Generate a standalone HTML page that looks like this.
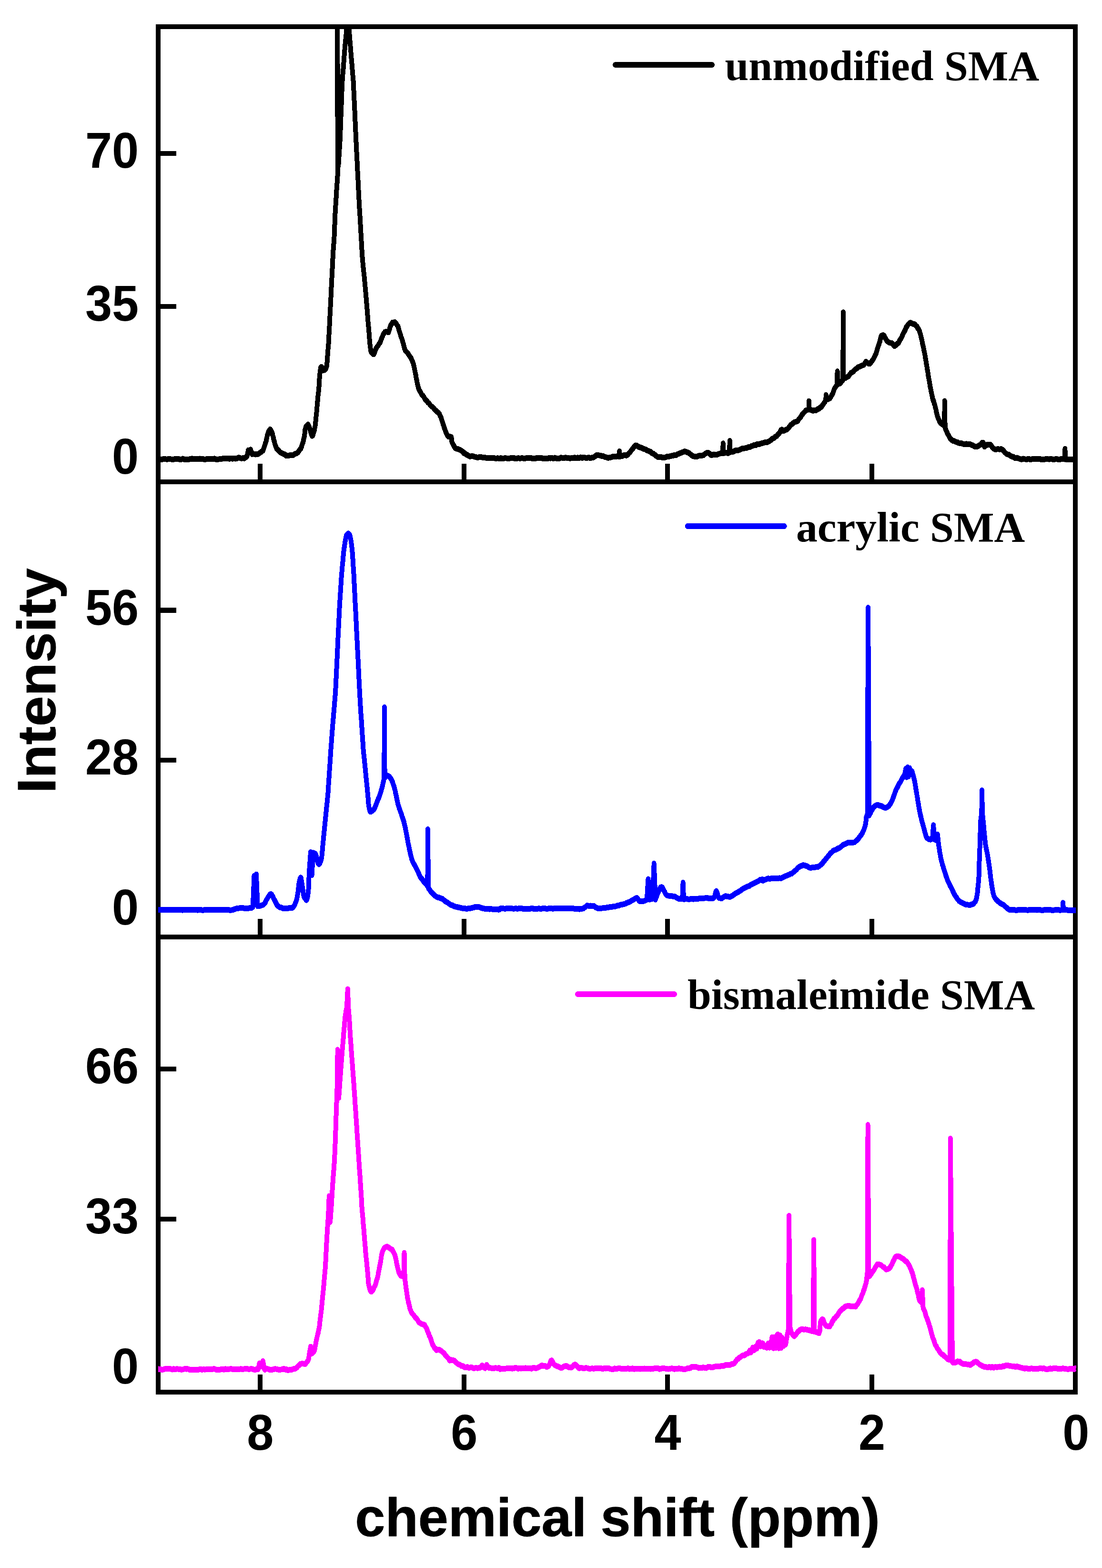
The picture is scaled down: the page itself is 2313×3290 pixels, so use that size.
<!DOCTYPE html>
<html lang="en"><head><meta charset="utf-8"><title>Intensity vs chemical shift (ppm)</title>
<style>
html,body{margin:0;padding:0;background:#fff;}
svg{display:block;width:2313px;height:3290px;}
.sans{font-family:"Liberation Sans",sans-serif;font-weight:700;fill:#000;}
.ttl{stroke:#000;stroke-width:0.9;stroke-linejoin:round;}
.serif{font-family:"Liberation Serif",serif;font-weight:700;fill:#000;}
.ax{stroke:#000;stroke-width:10;fill:none;shape-rendering:crispEdges;}
.cv{fill:none;stroke-width:10;stroke-linejoin:round;stroke-linecap:butt;shape-rendering:crispEdges;}
.lg{fill:none;stroke-width:12;stroke-linecap:round;shape-rendering:crispEdges;}
</style></head><body>
<svg width="2313" height="3290" viewBox="0 0 2313 3290">
<rect x="0" y="0" width="2313" height="3290" fill="#fff"/>
<defs>
<clipPath id="c1"><rect x="332" y="56" width="1927" height="955"/></clipPath>
<clipPath id="c2"><rect x="332" y="1011" width="1927" height="955"/></clipPath>
<clipPath id="c3"><rect x="332" y="1966" width="1927" height="955"/></clipPath>
</defs>
<g fill="#000" shape-rendering="crispEdges">
<rect x="327" y="51" width="10" height="2875"/>
<rect x="2252" y="51" width="10" height="2875"/>
<rect x="327" y="51" width="1935" height="10"/>
<rect x="327" y="1006" width="1935" height="10"/>
<rect x="327" y="1961" width="1935" height="10"/>
<rect x="327" y="2916" width="1935" height="10"/>
<rect x="541" y="973" width="10" height="33"/>
<rect x="541" y="1928" width="10" height="33"/>
<rect x="541" y="2884" width="10" height="32"/>
<rect x="969" y="973" width="10" height="33"/>
<rect x="969" y="1928" width="10" height="33"/>
<rect x="969" y="2884" width="10" height="32"/>
<rect x="1396" y="973" width="10" height="33"/>
<rect x="1396" y="1928" width="10" height="33"/>
<rect x="1396" y="2884" width="10" height="32"/>
<rect x="1825" y="973" width="10" height="33"/>
<rect x="1825" y="1928" width="10" height="33"/>
<rect x="1825" y="2884" width="10" height="32"/>
<rect x="337" y="317" width="33" height="10"/>
<rect x="337" y="638" width="33" height="10"/>
<rect x="337" y="959" width="33" height="10"/>
<rect x="337" y="1275" width="33" height="11"/>
<rect x="337" y="1590" width="33" height="10"/>
<rect x="337" y="1905" width="33" height="10"/>
<rect x="337" y="2238" width="33" height="10"/>
<rect x="337" y="2553" width="33" height="10"/>
<rect x="337" y="2868" width="33" height="10"/>
</g>
<g class="sans" font-size="105.3" text-anchor="end">
<text transform="translate(291.2,352.3) scale(0.958,1)">70</text>
<text transform="translate(291.2,673.3) scale(0.958,1)">35</text>
<text transform="translate(291.2,994.3) scale(0.958,1)">0</text>
<text transform="translate(291.2,1310.8) scale(0.958,1)">56</text>
<text transform="translate(291.2,1625.3) scale(0.958,1)">28</text>
<text transform="translate(291.2,1939.8) scale(0.958,1)">0</text>
<text transform="translate(291.2,2273.3) scale(0.958,1)">66</text>
<text transform="translate(291.2,2588.3) scale(0.958,1)">33</text>
<text transform="translate(291.2,2903.3) scale(0.958,1)">0</text>
</g>
<g class="sans" font-size="105.3" text-anchor="middle">
<text transform="translate(546.3,3041.6) scale(0.958,1)">8</text>
<text transform="translate(974.3,3041.6) scale(0.958,1)">6</text>
<text transform="translate(1401.6,3041.6) scale(0.958,1)">4</text>
<text transform="translate(1830.0,3041.6) scale(0.958,1)">2</text>
<text transform="translate(2258.2,3041.6) scale(0.958,1)">0</text>
</g>
<text class="sans ttl" font-size="113.5" text-anchor="middle" dx="0 0 0 0 0 0 0 0 -2.2" transform="translate(1296.1,3223) scale(1.0,1)">chemical shift (ppm)</text>
<text class="sans ttl" font-size="114" text-anchor="middle" transform="translate(116.3,1428.5) rotate(-90) scale(1.0075,1)">Intensity</text>
<g clip-path="url(#c1)"><g transform="scale(1,1.2)"><polyline class="cv" stroke="#000" points="331.9,802.83 332.7,802.75 335.0,802.93 338.4,803.54 342.5,802.78 346.8,802.85 351.0,802.98 354.6,802.31 357.9,802.85 361.1,803.05 364.4,803.32 367.6,802.16 370.9,802.51 374.1,802.15 377.4,803.35 380.7,803.16 383.9,802.07 387.2,803.64 390.4,803.61 393.7,803.09 396.9,803.03 400.2,802.26 403.4,802.03 406.7,802.89 410.0,802.12 413.3,802.34 416.5,802.43 419.7,802.07 422.9,802.77 426.4,802.70 429.9,803.31 433.3,802.71 436.7,802.85 440.2,802.55 443.6,802.76 447.0,802.36 450.5,802.00 453.9,803.15 457.4,803.09 460.8,802.77 464.2,802.49 467.7,801.79 471.2,801.60 474.8,801.66 478.2,801.24 481.6,802.34 484.9,801.63 488.1,802.25 491.1,801.33 494.1,802.12 497.1,801.77 500.1,800.19 503.3,800.46 506.7,801.61 510.0,800.82 513.0,801.48 515.2,800.08 518.4,798.18 521.1,787.18 523.6,790.70 526.1,786.14 529.2,794.05 531.4,793.52 536.1,794.62 540.7,794.51 544.0,792.67 547.1,790.86 550.0,789.13 551.6,788.22 553.1,785.47 554.4,781.71 555.6,779.08 556.6,775.98 557.7,773.18 558.6,771.78 559.4,768.01 560.1,765.90 560.7,763.05 561.5,760.13 562.3,758.81 563.8,754.63 565.4,752.66 567.0,750.56 568.6,752.29 570.2,754.76 571.6,758.04 572.5,761.47 573.3,763.75 574.0,765.66 574.7,769.41 575.5,770.97 576.3,773.74 577.3,777.31 578.3,779.62 579.4,781.23 580.9,785.06 582.9,785.96 585.2,788.07 587.7,790.79 590.2,791.70 593.7,793.34 597.3,794.37 599.5,795.43 600.0,796.81 601.6,796.38 604.5,796.82 608.1,796.04 612.0,795.59 615.6,795.69 618.6,794.06 622.2,792.69 625.2,791.30 627.9,787.89 629.8,785.62 631.4,784.37 632.8,781.49 634.1,777.67 635.0,775.20 635.9,773.60 636.7,771.31 637.4,767.40 638.1,765.98 638.7,763.24 639.3,760.08 639.7,756.95 640.0,753.58 640.4,750.78 641.0,749.89 641.8,746.67 644.1,744.24 646.5,742.05 647.8,744.17 648.9,746.39 650.0,749.05 651.1,751.73 652.2,755.55 653.1,757.68 654.1,760.55 655.1,762.18 656.2,761.84 657.3,759.28 658.4,755.73 659.5,753.49 660.4,749.20 661.0,746.55 661.5,744.45 661.9,742.10 662.3,738.75 662.6,736.21 662.9,733.85 663.2,731.60 663.5,728.43 663.9,725.80 664.2,723.82 664.5,721.20 664.8,717.90 665.1,715.16 665.4,712.13 665.7,708.53 666.0,705.50 666.3,702.63 666.6,701.33 666.9,698.36 667.2,696.20 667.5,692.07 667.8,690.53 668.2,687.70 668.5,685.58 668.8,682.41 669.1,681.04 669.4,676.89 669.7,674.90 669.9,672.84 670.1,670.56 670.2,667.63 670.3,664.86 670.5,662.29 670.7,659.82 670.9,656.32 671.2,654.48 671.7,651.56 672.2,647.99 672.8,644.01 673.5,642.25 674.4,641.36 675.8,642.55 677.5,645.98 679.3,647.52 681.9,646.76 684.3,644.02 685.1,641.36 685.7,640.02 686.1,637.98 686.4,634.94 686.7,631.73 686.9,628.24 687.1,626.05 687.4,623.33 687.7,620.32 687.9,618.38 688.2,614.61 688.4,613.23 688.6,609.50 688.9,607.90 689.1,605.18 689.4,602.22 689.6,600.41 689.8,597.37 690.0,594.84 690.2,592.52 690.4,588.52 690.5,585.18 690.7,582.73 690.9,580.46 691.0,576.80 691.2,573.88 691.4,572.23 691.6,568.96 691.7,565.72 691.9,563.61 692.1,559.80 692.3,557.49 692.4,553.84 692.6,551.36 692.8,549.12 692.9,546.43 693.1,543.51 693.3,539.81 693.5,537.28 693.6,533.96 693.8,530.80 694.0,528.53 694.1,526.23 694.3,523.38 694.5,520.28 694.7,517.81 694.8,513.82 695.0,510.77 695.2,508.37 695.3,505.21 695.5,502.24 695.7,499.71 695.9,497.19 696.0,494.11 696.2,490.94 696.4,488.94 696.5,486.31 696.7,482.56 696.9,479.07 697.1,476.12 697.2,474.66 697.4,470.40 697.6,468.65 697.8,465.55 697.9,462.24 698.1,460.18 698.3,456.00 698.4,453.26 698.6,450.86 698.8,447.24 698.9,445.76 699.1,442.05 699.3,439.18 699.6,436.43 699.8,434.86 700.0,432.04 700.2,429.79 700.4,427.31 700.7,425.09 700.9,422.85 701.1,419.78 701.3,416.17 701.5,414.13 701.6,410.99 701.8,407.94 701.9,405.86 702.0,403.37 702.2,399.56 702.3,396.83 702.4,394.13 702.6,391.93 702.7,388.83 702.9,386.19 703.0,383.62 703.1,380.22 703.3,378.10 703.4,375.53 703.6,371.42 703.8,370.21 703.9,367.26 704.1,363.69 704.3,361.65 704.5,359.37 704.7,357.28 704.9,353.83 705.1,351.57 705.3,349.48 705.5,346.70 705.6,344.29 705.8,340.84 706.0,338.53 706.2,335.21 706.4,333.58 706.6,331.33 706.8,327.98 707.1,325.20 707.3,321.53 707.6,319.86 707.8,317.15 708.1,313.79 708.4,309.24 708.7,306.08 709.0,302.63 709.0,301.89 707.6,21.02 710.3,289.50 710.3,289.58 710.5,287.83 710.7,284.53 710.9,281.06 711.2,278.31 711.4,275.06 711.7,272.16 711.9,268.82 712.1,265.48 712.3,264.20 712.5,260.37 712.7,259.02 713.0,255.39 713.2,253.08 713.3,251.25 713.5,247.59 713.7,245.03 713.8,243.06 713.9,240.82 714.0,238.43 714.1,235.60 714.2,233.45 714.3,230.11 714.5,228.29 714.6,224.27 714.7,221.91 714.8,219.84 714.9,216.86 715.0,215.01 715.2,212.28 715.3,209.51 715.4,207.46 715.5,204.41 715.6,201.41 715.7,198.95 715.9,197.14 716.0,194.65 716.1,190.91 716.2,189.40 716.3,187.02 716.5,183.70 716.6,181.20 716.7,177.99 716.8,175.97 716.9,173.33 717.0,170.92 717.2,167.38 717.3,166.37 717.4,163.03 717.5,160.26 717.6,158.34 717.7,155.36 717.8,152.66 717.9,150.41 718.1,146.79 718.2,145.00 718.4,142.21 718.6,140.53 718.9,137.89 719.1,134.22 719.4,131.98 719.6,128.82 719.9,126.75 720.1,124.81 720.4,122.37 720.6,119.08 720.8,116.23 721.1,113.44 721.3,111.57 721.5,109.50 721.8,105.59 722.0,104.09 722.3,100.23 722.5,97.89 722.7,95.31 723.0,93.45 723.2,90.23 723.4,87.71 723.7,85.63 723.9,82.32 724.2,80.57 724.5,76.86 724.8,74.86 725.2,71.81 725.5,69.11 725.8,67.02 726.1,64.22 726.4,61.51 726.7,58.97 727.0,56.52 727.3,53.20 727.6,50.47 727.9,48.33 728.2,44.98 728.5,41.21 728.8,38.20 729.2,34.56 729.5,32.32 729.8,29.49 730.1,29.68 730.4,30.42 730.7,32.30 731.1,33.88 731.4,37.04 731.7,41.56 732.0,43.99 732.3,48.74 732.6,51.60 732.9,52.92 733.1,55.68 733.4,59.10 733.6,60.93 733.9,63.29 734.1,67.14 734.4,69.08 734.6,72.32 734.9,73.83 735.1,76.90 735.4,79.98 735.6,81.48 735.9,84.40 736.2,87.81 736.4,90.80 736.7,93.51 736.9,94.69 737.2,97.96 737.4,100.99 737.7,103.17 737.9,106.09 738.2,107.87 738.4,110.28 738.7,112.95 739.0,115.45 739.2,118.92 739.5,121.46 739.7,124.17 740.0,126.10 740.3,128.80 740.5,131.47 740.8,135.16 741.1,138.03 741.3,140.52 741.6,141.71 741.8,144.20 741.9,148.33 742.1,150.12 742.3,153.21 742.4,155.05 742.5,157.84 742.6,160.48 742.8,162.90 742.9,165.75 743.0,167.36 743.2,171.08 743.3,173.90 743.5,175.38 743.6,178.42 743.8,181.47 743.9,183.50 744.0,185.73 744.2,188.26 744.3,191.42 744.5,193.17 744.6,197.22 744.8,199.65 744.9,202.07 745.0,204.91 745.2,207.10 745.3,209.31 745.5,212.22 745.6,214.64 745.8,218.02 745.9,220.30 746.0,221.97 746.2,225.64 746.3,227.95 746.5,230.58 746.6,233.23 746.7,235.13 746.9,238.53 747.0,241.08 747.2,243.35 747.3,246.06 747.5,248.63 747.6,250.62 747.8,253.73 747.9,255.22 748.1,258.25 748.2,261.05 748.4,262.87 748.5,266.02 748.7,269.08 748.9,271.63 749.0,273.56 749.2,277.33 749.3,279.45 749.5,281.48 749.6,284.60 749.8,287.03 749.9,289.55 750.1,291.90 750.2,295.49 750.4,297.48 750.6,300.16 750.7,302.84 750.9,305.79 751.0,306.77 751.2,310.34 751.3,313.13 751.5,314.91 751.6,317.73 751.8,319.73 752.0,322.55 752.1,325.43 752.3,327.55 752.4,330.39 752.6,334.06 752.7,336.03 752.9,338.52 753.0,341.85 753.2,343.76 753.3,347.06 753.5,349.06 753.7,351.97 753.8,353.22 754.0,356.57 754.2,359.34 754.3,360.66 754.5,364.66 754.7,365.90 754.9,368.94 755.0,370.96 755.2,374.01 755.4,376.71 755.6,378.30 755.7,382.28 755.9,383.92 756.1,386.60 756.2,389.23 756.4,391.35 756.6,393.72 756.8,396.84 756.9,399.19 757.1,401.24 757.3,404.47 757.4,406.27 757.6,408.31 757.8,411.20 758.0,413.37 758.1,416.07 758.3,419.57 758.5,421.50 758.6,424.93 758.8,427.29 759.0,428.73 759.2,432.88 759.3,435.34 759.5,436.36 759.7,440.12 759.9,441.59 760.1,444.59 760.3,448.10 760.5,449.49 760.8,452.60 761.1,456.12 761.4,458.35 761.7,460.63 762.0,464.25 762.4,466.81 762.7,469.30 763.1,471.32 763.4,474.96 763.7,477.45 764.1,479.79 764.4,482.31 764.8,485.86 765.1,487.96 765.4,491.25 765.7,494.40 766.0,496.81 766.3,499.25 766.6,502.55 766.9,505.05 767.2,508.41 767.5,510.76 767.8,514.31 768.0,517.00 768.3,519.40 768.6,521.34 768.9,523.90 769.2,527.96 769.5,530.55 769.8,533.05 770.0,535.37 770.3,537.99 770.6,541.45 770.8,544.01 771.1,546.82 771.4,549.66 771.6,552.62 771.9,554.47 772.2,557.38 772.4,561.41 772.7,564.11 773.0,566.82 773.2,568.14 773.5,570.83 773.7,573.86 774.0,576.73 774.3,579.62 774.5,581.29 774.8,584.56 775.0,586.34 775.3,588.95 775.5,592.54 775.7,594.93 775.9,597.65 776.2,599.79 776.6,602.51 777.0,605.12 777.5,608.54 778.0,612.30 778.7,615.19 779.7,616.03 783.4,619.20 784.8,619.22 786.1,616.43 787.4,613.61 789.0,609.81 790.4,608.11 792.0,605.72 793.6,604.48 795.3,601.56 796.9,599.83 798.3,598.19 799.7,594.41 800.9,591.94 802.1,589.48 803.3,587.24 804.5,584.35 808.2,580.38 811.7,580.07 815.3,581.23 816.8,577.84 817.8,574.64 818.7,571.97 820.0,568.96 821.8,566.77 823.9,563.95 826.1,563.76 828.7,563.42 831.5,565.82 833.9,569.25 835.2,570.35 836.3,573.16 837.3,576.55 838.2,579.30 839.1,581.42 840.1,583.87 841.1,586.83 842.2,590.06 843.3,592.07 844.3,594.26 845.3,597.80 846.3,600.07 847.2,603.38 848.0,606.14 848.8,608.75 849.7,610.47 850.9,613.37 852.6,614.63 854.7,616.46 856.7,618.39 858.7,621.33 860.4,623.57 862.0,624.98 863.6,627.80 865.1,630.53 866.4,633.29 867.4,635.78 868.3,638.26 869.0,640.49 869.7,643.70 870.4,646.76 871.1,649.08 871.7,652.04 872.3,654.18 872.8,656.21 873.4,659.89 873.9,662.78 874.5,664.41 875.1,666.50 875.7,669.68 876.5,672.55 877.3,675.27 878.2,678.49 879.2,680.42 880.4,683.07 882.0,684.54 883.9,687.88 885.9,690.79 888.1,692.20 889.9,694.31 891.9,697.59 894.0,700.08 896.2,700.92 898.3,703.98 900.5,705.21 903.0,708.41 905.5,710.38 908.0,711.77 910.5,713.72 912.9,716.58 915.4,718.10 917.8,720.30 920.1,721.54 922.2,723.60 923.7,726.93 925.0,728.94 926.2,731.30 927.2,734.11 928.4,737.15 929.4,739.66 930.4,742.65 931.4,744.50 932.4,747.86 933.5,750.15 934.6,752.86 936.0,755.77 937.4,758.78 939.0,761.43 940.8,763.36 944.0,763.47 947.0,763.93 947.9,766.64 947.9,770.12 948.5,772.79 949.9,775.50 951.7,777.82 953.8,781.43 956.3,784.07 959.0,784.62 962.2,785.45 965.5,786.60 968.6,788.29 971.1,789.54 973.4,792.34 975.7,792.54 978.2,794.54 981.0,795.52 983.8,797.24 986.8,798.12 990.0,797.64 993.3,797.86 996.6,798.86 999.7,799.36 1002.7,800.20 1006.0,799.04 1009.1,799.35 1012.1,799.62 1015.2,799.80 1018.2,799.98 1021.3,800.98 1024.4,800.98 1027.5,800.57 1030.6,800.68 1033.7,800.96 1037.1,800.84 1040.8,801.84 1044.4,801.08 1047.3,801.45 1049.2,801.85 1050.0,801.23 1051.4,800.84 1053.5,801.87 1056.4,801.91 1059.7,800.96 1063.3,801.31 1067.1,802.01 1070.9,801.23 1074.6,800.80 1077.9,800.52 1081.0,802.01 1084.1,801.77 1087.2,801.07 1090.3,801.31 1093.4,801.29 1096.5,800.89 1099.6,802.08 1102.7,801.53 1105.8,800.83 1108.9,800.45 1112.0,801.22 1115.1,801.05 1118.2,801.76 1121.2,801.62 1124.3,801.44 1127.4,800.70 1130.5,800.69 1133.6,800.97 1136.7,800.87 1139.8,801.89 1142.9,801.31 1146.0,801.52 1149.1,802.12 1152.2,800.91 1155.3,801.36 1158.4,800.71 1161.5,801.72 1164.7,800.40 1167.8,801.72 1171.0,801.71 1174.2,801.61 1177.3,800.31 1180.5,800.56 1183.7,801.24 1186.9,800.14 1190.0,800.72 1193.2,800.64 1196.4,801.40 1199.5,800.73 1202.7,801.12 1205.9,800.14 1209.0,800.89 1212.2,800.21 1215.4,800.99 1218.5,799.56 1221.8,800.78 1225.3,799.83 1228.9,800.50 1232.5,800.59 1236.0,800.06 1239.3,801.18 1242.3,800.19 1244.9,799.90 1247.0,799.02 1250.0,797.24 1252.6,795.64 1256.0,796.09 1259.9,796.38 1263.8,797.86 1266.8,797.68 1269.7,798.99 1273.0,799.66 1275.9,800.57 1279.3,800.20 1282.9,799.61 1286.6,798.18 1290.1,798.42 1293.1,798.68 1295.3,797.74 1299.1,798.17 1300.2,789.23 1301.3,798.17 1304.7,797.66 1307.4,797.01 1310.9,795.68 1314.5,796.49 1317.7,794.96 1320.3,792.17 1322.6,790.60 1324.8,787.66 1327.0,785.58 1329.4,783.11 1331.8,780.07 1334.4,778.70 1337.3,779.31 1340.4,781.41 1343.7,782.28 1347.3,783.23 1351.1,785.07 1354.8,785.50 1357.6,787.53 1360.4,787.99 1363.2,789.46 1366.0,790.14 1368.5,792.45 1371.1,792.96 1373.7,794.81 1376.3,796.31 1379.0,798.47 1382.2,799.34 1385.4,798.92 1388.7,799.50 1392.0,800.29 1395.7,799.77 1399.4,798.60 1403.2,798.33 1406.9,797.60 1409.9,796.96 1412.9,796.74 1415.8,795.42 1418.8,796.01 1421.8,794.34 1424.8,793.40 1427.8,792.31 1430.8,791.25 1433.8,790.39 1436.6,789.31 1439.6,789.67 1442.4,790.86 1445.1,791.51 1447.8,793.36 1450.8,795.33 1453.7,797.31 1457.1,798.03 1460.1,798.14 1463.5,798.08 1467.0,796.87 1470.5,796.95 1473.8,796.36 1477.4,795.57 1480.8,792.83 1484.0,791.70 1486.8,791.37 1489.5,793.55 1492.4,795.62 1494.9,795.48 1498.3,794.53 1502.0,795.07 1505.9,794.68 1509.5,793.45 1512.6,792.61 1514.7,792.60 1516.9,792.60 1517.7,775.29 1518.4,792.60 1520.8,791.71 1525.8,792.09 1529.5,792.17 1531.0,791.36 1531.8,770.64 1532.5,790.43 1533.5,790.25 1536.1,790.05 1539.8,789.50 1544.0,787.56 1548.2,787.93 1551.9,786.61 1555.0,785.20 1558.1,784.31 1561.2,783.87 1564.3,783.70 1567.4,783.16 1570.5,781.78 1573.6,781.96 1576.8,780.14 1580.0,779.42 1583.2,777.99 1586.2,778.60 1589.0,776.50 1592.9,776.95 1596.4,775.65 1600.0,774.93 1603.1,774.26 1606.2,773.09 1609.3,773.39 1612.4,772.55 1615.6,770.95 1618.8,769.07 1621.8,766.62 1624.8,766.07 1627.5,763.48 1630.1,762.71 1632.5,759.77 1634.7,758.42 1637.0,755.99 1639.0,751.97 1640.9,751.15 1644.6,753.47 1646.7,752.81 1649.3,751.47 1652.0,750.75 1654.5,748.71 1657.0,746.21 1659.4,743.39 1661.9,741.84 1664.4,740.11 1667.8,738.01 1671.3,737.19 1674.3,736.09 1676.7,732.89 1678.7,731.06 1680.5,729.34 1683.0,725.65 1685.5,723.00 1688.5,720.48 1691.7,717.49 1695.2,716.64 1697.4,715.97 1697.9,701.34 1698.4,715.97 1701.4,716.58 1706.6,718.15 1709.9,717.52 1713.3,717.30 1716.5,715.20 1719.2,714.83 1721.6,712.19 1723.9,711.57 1726.0,709.03 1728.0,706.63 1729.9,704.35 1731.3,702.75 1733.3,698.41 1733.8,690.61 1735.1,698.41 1737.5,698.17 1741.3,696.77 1743.6,694.49 1745.7,691.08 1747.5,688.91 1748.8,685.86 1749.9,683.07 1751.2,679.67 1753.9,676.34 1756.1,673.73 1756.9,671.56 1757.6,649.30 1759.1,671.56 1763.6,670.18 1767.1,666.49 1769.3,664.33 1769.8,546.03 1770.5,662.27 1773.5,661.33 1778.4,659.05 1780.9,658.10 1783.4,654.99 1785.9,652.29 1788.3,651.28 1790.8,649.63 1793.3,647.40 1795.8,645.37 1798.3,644.10 1802.0,641.60 1805.7,640.74 1809.6,639.01 1813.1,637.89 1815.5,634.90 1817.6,632.33 1820.2,634.13 1823.0,635.70 1825.5,635.94 1828.1,633.65 1830.5,630.86 1832.2,628.94 1833.8,626.80 1835.3,624.09 1836.7,621.27 1837.8,620.34 1838.8,617.97 1839.8,614.94 1840.7,612.72 1841.6,609.47 1842.6,607.61 1843.7,604.13 1844.7,602.50 1845.7,599.73 1846.6,597.88 1847.5,593.67 1848.3,591.89 1849.2,588.15 1850.3,586.95 1853.3,585.98 1855.5,586.63 1857.7,590.59 1859.6,593.28 1861.6,596.00 1863.9,597.51 1867.6,599.46 1871.4,599.80 1873.6,601.05 1875.5,603.48 1877.6,605.20 1880.7,603.14 1883.8,600.56 1886.0,599.62 1888.0,595.81 1890.0,593.08 1891.5,591.49 1893.0,589.07 1894.5,585.65 1896.0,582.65 1897.4,580.35 1898.9,578.66 1900.4,575.89 1901.9,572.15 1903.6,570.93 1905.9,567.66 1908.4,565.71 1911.0,564.04 1913.9,565.38 1916.9,566.63 1919.7,566.77 1922.5,569.48 1924.9,571.24 1927.1,575.13 1928.6,576.06 1929.9,578.62 1931.0,582.31 1932.1,584.50 1932.9,587.83 1933.6,590.30 1934.3,592.68 1935.0,594.46 1935.7,598.18 1936.4,601.38 1937.0,603.32 1937.7,605.27 1938.4,608.15 1939.0,610.98 1939.7,614.34 1940.3,616.14 1940.9,618.70 1941.5,621.28 1942.0,624.33 1942.6,627.22 1943.1,629.03 1943.6,631.91 1944.0,634.66 1944.5,636.60 1945.0,638.48 1945.5,641.07 1946.0,644.60 1946.5,646.64 1947.0,648.47 1947.5,651.55 1948.0,653.11 1948.4,657.08 1948.9,658.66 1949.4,661.28 1949.9,663.71 1950.4,665.28 1950.8,668.61 1951.3,670.59 1951.9,673.21 1952.4,676.49 1953.0,677.82 1953.6,680.80 1954.2,684.29 1954.8,686.16 1955.5,688.89 1956.2,691.93 1956.9,693.76 1957.7,697.51 1958.6,700.07 1959.5,700.82 1960.4,703.87 1961.4,706.76 1962.3,708.70 1963.0,712.04 1963.8,713.93 1964.5,716.10 1965.2,719.46 1965.9,722.31 1966.7,724.44 1967.5,727.38 1968.4,729.80 1969.8,732.36 1971.2,735.11 1972.8,738.13 1974.5,739.87 1977.8,742.00 1980.7,743.72 1982.3,741.27 1982.7,701.11 1983.7,748.08 1984.2,748.67 1985.5,752.41 1987.2,754.74 1988.8,758.48 1990.6,760.57 1992.5,763.66 1994.6,766.79 1997.0,769.00 1999.8,770.67 2002.9,771.09 2006.1,772.62 2009.3,773.17 2012.3,774.63 2015.5,775.22 2018.5,775.02 2021.6,776.35 2025.0,776.59 2028.4,776.15 2031.8,776.81 2035.3,776.59 2038.7,777.87 2042.0,778.80 2046.2,780.87 2050.2,781.20 2053.0,780.26 2055.8,778.32 2058.4,777.54 2061.2,773.89 2063.5,773.98 2064.6,775.29 2065.3,778.48 2066.5,780.94 2069.4,779.08 2072.7,777.31 2075.7,777.16 2078.8,777.14 2080.8,779.05 2082.6,781.83 2084.6,784.00 2087.0,785.17 2090.3,786.15 2094.0,784.96 2097.8,785.79 2101.3,785.02 2104.1,786.42 2106.5,788.06 2108.9,790.92 2111.5,792.93 2114.4,794.49 2117.4,794.87 2120.6,796.91 2123.8,798.12 2127.2,798.96 2130.8,801.14 2134.4,800.35 2138.1,801.73 2141.2,802.60 2144.4,803.26 2147.6,802.07 2150.9,802.74 2154.5,803.35 2157.4,802.25 2160.4,802.62 2163.5,803.71 2166.7,802.45 2170.0,802.84 2173.2,802.64 2176.5,802.83 2179.7,802.24 2182.8,802.17 2186.0,803.77 2189.1,803.38 2192.3,803.33 2195.4,802.49 2198.6,802.53 2201.7,803.03 2204.9,802.51 2208.2,802.88 2211.7,803.66 2215.2,802.71 2218.8,802.67 2222.1,803.74 2225.2,803.13 2227.9,802.17 2230.1,802.78 2234.8,802.94 2235.4,784.60 2236.2,802.94 2257.7,803.12"/></g></g>
<g clip-path="url(#c2)"><g transform="scale(1,1.2)"><polyline class="cv" stroke="#00f" points="331.9,1590.92 332.6,1590.90 334.7,1591.08 337.7,1591.09 341.4,1590.57 345.6,1590.44 349.8,1590.80 353.8,1590.70 357.4,1591.24 360.6,1591.12 363.7,1591.03 366.9,1590.98 370.1,1591.09 373.3,1590.57 376.5,1590.87 379.7,1590.59 382.9,1591.33 386.1,1590.48 389.2,1591.24 392.4,1590.50 395.6,1591.11 398.8,1590.76 402.0,1590.83 405.2,1591.27 408.4,1590.44 411.6,1590.49 414.8,1591.34 417.9,1590.93 421.1,1590.52 424.3,1591.41 427.5,1591.37 430.7,1590.54 433.9,1590.85 437.1,1590.56 440.3,1590.74 443.4,1591.05 446.6,1590.59 449.8,1591.12 453.0,1590.48 456.2,1590.60 459.4,1591.24 462.6,1590.85 465.9,1590.94 469.1,1591.20 472.4,1591.16 475.6,1591.12 478.8,1590.75 481.9,1591.35 484.9,1591.39 488.2,1590.97 491.5,1590.02 494.6,1589.00 497.7,1588.31 500.6,1588.08 503.5,1587.74 506.7,1587.20 509.8,1587.62 512.8,1588.08 515.9,1588.35 519.2,1588.52 522.7,1587.94 525.9,1587.08 528.3,1587.37 530.7,1585.76 533.5,1531.38 535.7,1561.23 537.9,1528.80 540.7,1584.47 542.1,1584.28 545.6,1583.95 549.7,1582.86 553.0,1581.82 555.4,1579.71 557.2,1577.39 558.9,1573.82 560.8,1571.61 562.7,1568.68 564.7,1566.46 566.6,1563.65 568.5,1563.08 570.1,1563.99 571.7,1566.29 573.2,1568.38 574.7,1571.62 576.3,1573.85 578.1,1576.68 579.8,1579.70 581.7,1582.80 584.0,1584.45 587.0,1586.42 590.4,1586.76 593.8,1588.30 596.4,1588.21 599.5,1588.03 600.0,1588.55 602.3,1588.70 606.2,1587.76 610.5,1587.69 613.9,1587.28 616.5,1584.86 618.5,1582.08 620.1,1578.78 621.2,1576.60 622.0,1574.76 622.8,1572.54 623.5,1569.84 624.2,1566.57 624.8,1563.30 625.3,1561.11 625.7,1558.92 626.0,1556.22 626.4,1553.25 626.7,1550.11 627.0,1547.78 627.4,1545.29 627.9,1543.25 628.9,1538.91 629.9,1536.04 631.0,1534.48 631.6,1534.61 632.3,1536.98 632.9,1540.73 633.5,1543.77 634.1,1548.09 634.7,1550.88 635.2,1553.72 635.7,1556.56 636.1,1558.95 636.6,1561.83 637.2,1564.44 637.9,1567.20 638.7,1569.14 641.0,1571.83 643.4,1573.97 644.3,1572.63 645.0,1570.46 645.7,1567.91 646.2,1565.29 646.7,1561.63 647.1,1558.73 647.4,1556.61 647.6,1554.15 647.8,1551.38 647.9,1548.42 648.0,1545.94 648.1,1543.60 648.2,1540.85 648.3,1538.04 648.5,1534.94 648.7,1531.70 648.9,1528.64 649.1,1525.12 649.3,1521.54 649.4,1519.78 649.5,1518.32 649.6,1517.31 652.0,1490.03 654.5,1530.22 654.6,1529.78 654.7,1527.90 654.9,1525.04 655.2,1521.22 655.4,1517.80 655.7,1513.84 655.9,1510.45 656.0,1507.68 656.0,1504.25 655.9,1501.39 655.9,1497.85 656.0,1494.85 656.5,1492.78 657.3,1491.12 662.0,1492.82 663.2,1494.97 664.2,1497.64 665.0,1500.89 665.7,1504.32 666.6,1506.81 668.1,1510.27 669.7,1511.27 670.9,1510.22 672.1,1508.02 673.3,1505.24 674.4,1502.08 674.9,1499.81 675.4,1497.65 675.8,1494.45 676.1,1491.36 676.4,1489.00 676.7,1486.15 676.9,1483.17 677.2,1481.09 677.5,1478.42 677.8,1475.50 678.1,1472.98 678.4,1471.10 678.7,1467.70 679.0,1465.54 679.3,1462.87 679.6,1460.21 679.9,1457.86 680.2,1455.07 680.5,1453.19 680.9,1450.19 681.2,1447.80 681.5,1444.68 681.8,1442.40 682.1,1439.96 682.4,1437.66 682.7,1434.57 683.0,1432.26 683.3,1430.05 683.6,1427.28 683.9,1424.12 684.3,1421.74 684.6,1419.19 684.9,1415.99 685.3,1413.41 685.6,1410.55 686.0,1408.06 686.3,1404.88 686.7,1402.24 687.0,1399.14 687.3,1396.76 687.7,1393.58 688.0,1390.99 688.3,1388.09 688.6,1385.27 688.8,1382.33 689.0,1379.66 689.2,1377.21 689.4,1374.15 689.6,1371.18 689.8,1369.17 690.1,1365.89 690.3,1363.77 690.5,1360.67 690.7,1357.69 690.9,1355.41 691.2,1352.67 691.4,1349.33 691.6,1346.37 691.8,1344.12 692.1,1341.55 692.3,1338.55 692.5,1335.96 692.7,1332.82 692.9,1330.26 693.2,1327.14 693.4,1324.52 693.6,1321.73 693.8,1318.97 694.0,1316.21 694.3,1313.86 694.5,1310.45 694.7,1307.72 695.0,1305.01 695.2,1302.96 695.5,1299.74 695.7,1296.51 695.9,1294.52 696.2,1291.79 696.4,1288.97 696.7,1285.73 696.9,1283.33 697.1,1280.12 697.4,1277.18 697.6,1275.16 697.9,1272.39 698.1,1269.14 698.4,1267.19 698.7,1263.73 698.9,1261.42 699.2,1258.54 699.5,1256.10 699.8,1253.50 700.0,1251.42 700.3,1248.33 700.6,1245.55 700.8,1242.88 701.1,1240.40 701.4,1238.41 701.6,1235.72 701.9,1232.49 702.1,1230.47 702.4,1227.79 702.6,1225.19 702.9,1222.73 703.1,1220.30 703.4,1217.93 703.6,1215.09 703.9,1212.63 704.1,1209.76 704.3,1207.20 704.5,1204.13 704.6,1201.26 704.8,1198.43 705.0,1195.69 705.1,1192.36 705.3,1190.14 705.5,1186.84 705.6,1184.33 705.8,1181.30 706.0,1178.69 706.2,1175.55 706.3,1172.43 706.5,1169.54 706.7,1166.87 706.9,1164.15 707.0,1161.37 707.2,1157.79 707.4,1154.85 707.5,1152.03 707.7,1149.14 707.8,1146.24 708.0,1143.32 708.1,1140.70 708.3,1137.69 708.4,1135.40 708.6,1132.46 708.7,1129.94 708.9,1127.07 709.1,1123.98 709.2,1121.32 709.4,1117.53 709.5,1114.86 709.7,1112.69 709.8,1109.37 710.0,1106.23 710.1,1103.91 710.3,1100.71 710.5,1097.96 710.7,1094.87 710.8,1091.92 711.0,1088.90 711.2,1086.55 711.4,1084.03 711.5,1081.20 711.7,1078.11 711.9,1075.40 712.0,1071.97 712.2,1069.03 712.4,1066.79 712.5,1063.60 712.7,1060.80 712.9,1057.27 713.1,1054.62 713.3,1052.01 713.5,1049.39 713.7,1046.61 714.0,1043.68 714.2,1040.39 714.4,1037.56 714.6,1035.18 714.9,1032.44 715.1,1029.06 715.3,1025.91 715.5,1023.47 715.8,1020.51 716.0,1017.48 716.2,1014.51 716.4,1011.82 716.6,1009.19 716.8,1005.82 717.1,1003.31 717.4,1001.01 717.7,998.06 718.0,994.80 718.3,992.18 718.6,989.07 719.0,986.92 719.3,984.04 719.6,980.82 719.8,978.45 720.1,975.76 720.4,973.00 720.7,970.04 721.0,967.18 721.4,964.40 721.9,962.28 722.3,958.71 722.8,955.91 723.3,952.91 723.9,949.73 724.4,947.22 724.9,944.52 725.5,942.42 726.2,939.36 726.9,936.69 727.9,935.29 730.7,932.84 733.5,934.68 734.7,937.32 735.5,940.21 736.3,943.90 736.8,946.21 737.2,948.03 737.6,951.20 738.0,953.32 738.4,956.21 738.8,959.53 739.1,962.42 739.4,964.72 739.7,967.01 740.0,970.05 740.2,972.66 740.4,975.98 740.6,978.12 740.7,980.84 741.0,984.04 741.2,986.82 741.4,989.56 741.6,992.24 741.9,995.51 742.1,997.78 742.3,1001.00 742.5,1003.16 742.7,1006.16 742.9,1008.94 743.0,1012.15 743.2,1015.03 743.4,1017.36 743.5,1020.50 743.7,1023.57 743.9,1026.21 744.1,1029.24 744.2,1032.06 744.4,1035.03 744.6,1037.54 744.7,1040.36 744.9,1042.94 745.1,1046.68 745.3,1049.45 745.4,1051.91 745.6,1055.36 745.8,1058.16 745.9,1060.28 746.1,1063.83 746.3,1066.29 746.5,1069.05 746.6,1071.86 746.8,1074.89 747.0,1077.39 747.1,1080.26 747.3,1083.19 747.5,1086.25 747.7,1088.97 747.8,1091.80 748.0,1095.38 748.2,1097.80 748.4,1100.78 748.5,1103.76 748.7,1106.96 748.9,1109.04 749.0,1111.99 749.2,1115.49 749.4,1118.41 749.6,1121.30 749.7,1123.76 749.9,1126.47 750.1,1129.16 750.2,1132.75 750.4,1135.48 750.6,1138.13 750.8,1141.24 750.9,1143.58 751.1,1146.72 751.3,1149.96 751.5,1152.03 751.6,1155.41 751.8,1157.84 752.0,1161.36 752.1,1164.23 752.3,1166.91 752.5,1169.57 752.7,1172.02 752.8,1175.36 753.0,1178.10 753.2,1181.01 753.3,1183.55 753.5,1187.26 753.7,1189.73 753.9,1192.64 754.0,1195.76 754.2,1198.61 754.4,1201.07 754.5,1203.90 754.7,1207.11 754.9,1209.66 755.0,1212.66 755.2,1214.34 755.4,1217.75 755.5,1220.16 755.7,1222.95 755.9,1226.01 756.1,1227.91 756.3,1230.71 756.4,1233.63 756.7,1236.45 756.9,1239.03 757.1,1242.04 757.3,1244.67 757.5,1247.59 757.8,1250.10 758.0,1252.56 758.2,1255.25 758.4,1257.81 758.7,1260.62 758.9,1263.30 759.1,1267.00 759.3,1268.93 759.5,1272.16 759.8,1274.46 760.0,1278.06 760.2,1280.39 760.4,1282.80 760.6,1286.22 760.9,1289.01 761.1,1291.90 761.3,1293.91 761.5,1296.86 761.7,1299.88 761.9,1302.27 762.1,1305.32 762.4,1308.22 762.6,1311.03 762.9,1313.87 763.2,1316.57 763.6,1318.87 763.9,1322.10 764.3,1324.55 764.6,1327.05 765.0,1329.67 765.3,1333.05 765.6,1335.58 766.0,1338.11 766.3,1341.30 766.6,1343.99 767.0,1346.64 767.3,1349.57 767.6,1352.41 768.0,1355.22 768.3,1358.46 768.6,1361.14 769.0,1363.30 769.3,1366.66 769.6,1368.92 770.0,1372.40 770.3,1374.37 770.7,1377.45 771.0,1380.83 771.3,1383.23 771.6,1385.96 771.9,1388.06 772.2,1390.51 772.4,1393.88 772.7,1395.54 772.9,1398.25 773.1,1401.13 773.3,1404.14 773.6,1406.57 774.1,1409.38 774.8,1412.39 775.7,1415.48 776.7,1418.77 778.1,1419.54 781.1,1418.02 784.3,1415.79 785.7,1413.90 787.1,1411.51 788.4,1408.91 789.6,1406.05 790.8,1403.44 792.1,1400.70 793.2,1398.26 794.4,1396.10 795.6,1393.90 796.7,1391.29 797.8,1388.23 798.9,1385.78 799.8,1383.03 800.7,1380.63 801.6,1377.79 802.4,1375.33 803.2,1372.56 803.8,1369.94 804.5,1367.67 805.7,1363.04 806.3,1361.12 806.9,1236.78 807.6,1359.83 809.2,1357.90 812.2,1355.91 814.7,1356.39 817.5,1358.42 820.0,1361.04 821.5,1362.72 822.8,1365.38 824.0,1367.50 825.1,1370.68 826.1,1372.93 827.1,1375.17 827.9,1377.60 828.6,1380.13 829.4,1382.57 830.1,1386.00 830.8,1388.64 831.5,1390.89 832.1,1393.48 832.7,1395.60 833.3,1398.63 834.0,1400.88 834.7,1403.62 835.4,1406.39 836.4,1408.64 837.4,1411.30 838.4,1414.37 839.5,1416.67 840.6,1419.62 841.6,1421.45 842.7,1423.94 843.8,1427.34 844.8,1429.55 845.9,1432.20 846.9,1434.67 847.8,1436.92 848.6,1440.24 849.3,1442.28 850.0,1445.25 850.6,1447.08 851.2,1449.82 851.8,1452.74 852.5,1455.10 853.1,1458.23 853.7,1460.21 854.2,1462.63 854.8,1465.34 855.4,1468.07 856.0,1471.35 856.5,1473.86 857.1,1476.17 857.8,1478.60 858.4,1480.89 859.1,1484.33 859.7,1486.24 860.4,1488.88 861.1,1491.61 861.8,1494.44 862.6,1496.51 863.4,1499.03 864.3,1502.43 865.3,1504.02 866.4,1507.22 867.8,1509.00 869.3,1511.45 871.0,1513.62 872.6,1516.14 874.2,1519.02 875.5,1521.24 876.7,1523.36 877.9,1525.37 879.2,1527.90 880.5,1530.38 881.9,1533.09 883.7,1535.48 885.6,1536.75 887.5,1539.13 889.4,1541.72 891.2,1542.78 893.8,1545.45 896.3,1548.21 897.4,1549.58 898.0,1450.03 899.0,1552.16 899.7,1553.59 901.7,1555.45 904.2,1558.89 906.7,1560.81 908.8,1563.18 911.1,1564.39 913.4,1566.37 916.0,1567.89 918.9,1569.13 922.1,1569.51 925.3,1570.88 928.4,1571.42 930.9,1573.32 933.4,1574.88 935.8,1576.66 938.3,1577.41 940.8,1579.04 943.8,1580.95 946.9,1582.49 950.0,1583.08 953.2,1584.69 956.2,1585.36 959.2,1585.73 962.2,1586.54 965.5,1587.03 968.4,1587.61 971.5,1588.58 974.6,1588.51 977.9,1588.78 981.0,1588.83 984.1,1588.19 987.6,1588.10 991.1,1587.38 994.5,1586.69 997.9,1585.51 1001.2,1586.11 1004.7,1585.71 1008.0,1586.73 1011.4,1587.81 1015.1,1588.54 1018.0,1588.95 1021.1,1588.75 1024.4,1589.01 1027.8,1589.69 1031.2,1589.22 1034.4,1590.23 1037.3,1589.82 1039.9,1590.00 1043.7,1590.12 1047.0,1590.63 1049.2,1589.78 1050.0,1588.70 1051.4,1588.30 1053.7,1588.18 1056.6,1588.61 1060.1,1589.01 1063.9,1588.11 1067.9,1588.69 1071.8,1588.70 1075.7,1588.74 1079.1,1588.81 1082.4,1588.56 1085.6,1588.86 1088.8,1588.69 1092.1,1588.48 1095.3,1588.54 1098.5,1589.32 1101.8,1589.10 1105.0,1589.35 1108.2,1589.17 1111.5,1589.09 1114.7,1588.56 1117.9,1588.43 1121.2,1589.30 1124.4,1588.98 1127.7,1589.01 1130.9,1588.42 1134.1,1589.06 1137.4,1588.79 1140.6,1588.33 1143.8,1588.44 1147.1,1589.19 1150.3,1588.83 1153.5,1588.29 1156.8,1588.27 1160.0,1588.92 1163.2,1588.51 1166.5,1588.63 1169.7,1588.28 1173.0,1588.31 1176.2,1588.61 1179.4,1588.53 1182.7,1588.28 1185.9,1588.23 1189.1,1588.51 1192.4,1588.17 1195.6,1588.11 1198.9,1588.56 1202.5,1588.27 1206.1,1589.13 1209.7,1589.34 1213.2,1589.40 1216.5,1589.70 1219.6,1588.83 1222.4,1588.83 1224.7,1588.36 1227.5,1586.54 1229.6,1585.48 1232.2,1583.34 1235.6,1583.89 1239.6,1583.73 1243.6,1584.54 1247.0,1584.29 1250.6,1586.73 1254.5,1588.29 1256.9,1588.34 1259.9,1588.15 1263.1,1588.06 1266.6,1587.60 1270.2,1587.59 1273.7,1586.88 1277.2,1586.42 1280.5,1585.87 1283.8,1585.67 1287.1,1585.16 1290.4,1584.99 1293.7,1584.28 1296.8,1583.26 1299.9,1583.06 1302.8,1581.98 1306.0,1581.56 1309.1,1580.92 1312.1,1580.41 1314.9,1578.98 1317.7,1578.18 1320.7,1577.07 1323.5,1576.24 1326.2,1574.48 1328.8,1573.63 1332.7,1571.50 1336.2,1569.79 1338.9,1572.11 1341.8,1575.53 1345.3,1575.99 1349.4,1575.92 1353.0,1575.11 1357.8,1572.96 1360.4,1537.07 1363.0,1572.96 1369.7,1571.41 1372.7,1509.80 1375.7,1572.96 1376.0,1572.27 1376.9,1569.68 1378.2,1567.21 1379.8,1563.27 1381.3,1560.19 1382.7,1557.89 1384.5,1554.92 1386.4,1551.31 1388.3,1551.08 1390.2,1551.49 1392.0,1555.10 1393.9,1557.76 1395.5,1559.96 1397.1,1563.22 1399.4,1565.27 1401.9,1566.04 1404.9,1566.63 1408.1,1566.66 1411.4,1567.07 1414.3,1567.58 1417.3,1567.87 1420.2,1569.70 1422.9,1570.89 1425.5,1571.77 1429.7,1571.60 1432.2,1571.41 1433.6,1543.26 1435.1,1572.33 1436.0,1572.36 1438.5,1571.91 1442.0,1571.89 1446.3,1572.49 1450.8,1571.54 1455.1,1572.25 1458.9,1571.34 1462.2,1571.45 1465.4,1571.51 1468.7,1570.73 1471.9,1570.95 1475.1,1571.11 1478.2,1570.51 1481.2,1570.15 1484.9,1570.08 1488.6,1571.22 1492.2,1570.56 1495.4,1570.91 1498.0,1570.00 1499.7,1567.60 1500.9,1564.86 1501.8,1561.81 1502.6,1558.81 1503.5,1557.83 1504.6,1559.57 1505.5,1561.45 1506.6,1564.97 1507.7,1567.94 1509.1,1570.14 1514.7,1570.83 1518.3,1568.87 1522.1,1566.88 1525.1,1567.12 1528.2,1567.60 1531.4,1568.38 1534.5,1567.36 1537.7,1566.12 1541.0,1563.85 1544.4,1561.74 1546.9,1560.77 1549.5,1559.90 1552.1,1558.20 1554.8,1556.98 1557.6,1554.99 1560.3,1553.81 1563.0,1552.58 1566.1,1551.43 1569.2,1549.76 1572.3,1549.31 1575.4,1547.44 1578.5,1545.85 1581.6,1544.81 1585.0,1543.55 1588.8,1541.85 1592.7,1540.24 1596.1,1537.98 1598.7,1537.91 1600.2,1537.69 1600.0,1539.58 1601.9,1539.66 1605.1,1538.39 1608.9,1537.01 1612.4,1535.99 1615.4,1536.52 1618.5,1536.16 1621.6,1535.53 1624.8,1535.54 1628.5,1535.46 1632.4,1535.88 1636.2,1535.37 1639.7,1535.70 1643.1,1534.01 1646.3,1532.89 1649.6,1531.43 1652.6,1530.67 1655.8,1529.53 1659.0,1528.10 1662.0,1527.49 1664.6,1525.44 1667.0,1523.77 1669.4,1522.07 1671.9,1520.43 1674.3,1517.82 1676.8,1516.42 1679.3,1514.72 1681.8,1514.11 1685.5,1512.68 1689.2,1513.14 1692.4,1514.11 1695.7,1515.49 1699.1,1517.11 1702.4,1517.39 1705.7,1516.76 1709.0,1516.65 1712.4,1516.12 1715.8,1516.22 1719.0,1514.68 1721.6,1513.00 1724.1,1511.35 1726.5,1509.32 1728.9,1506.17 1730.9,1504.73 1732.9,1502.16 1734.8,1500.58 1736.8,1498.44 1738.8,1496.47 1741.2,1494.05 1743.5,1491.41 1746.0,1490.11 1748.7,1487.55 1751.6,1486.56 1754.8,1485.73 1758.0,1483.88 1761.1,1482.76 1763.6,1481.55 1766.1,1479.94 1768.6,1478.02 1771.0,1476.65 1773.5,1475.95 1776.8,1474.63 1780.1,1473.31 1783.4,1473.25 1786.8,1473.25 1790.2,1473.03 1793.3,1472.84 1796.0,1470.90 1798.4,1469.11 1800.7,1467.65 1802.7,1465.17 1804.7,1462.97 1806.5,1460.83 1808.2,1459.41 1810.0,1456.67 1811.7,1453.33 1813.1,1451.01 1814.2,1448.01 1815.2,1445.89 1816.1,1442.65 1816.8,1440.52 1817.4,1437.53 1817.7,1433.91 1818.1,1430.83 1818.6,1427.67 1820.6,1423.92 1822.1,1062.49 1824.3,1425.98 1825.5,1423.87 1826.9,1421.80 1828.7,1418.38 1830.5,1415.90 1832.8,1412.33 1835.4,1409.77 1838.4,1408.25 1841.6,1407.20 1844.4,1408.01 1847.4,1408.84 1850.3,1409.39 1853.3,1410.90 1856.2,1411.93 1859.0,1412.63 1862.2,1411.39 1865.2,1409.42 1867.2,1407.25 1869.1,1405.31 1870.9,1402.20 1872.6,1399.25 1873.8,1397.00 1874.8,1394.62 1875.9,1391.89 1876.9,1389.88 1877.9,1387.21 1878.9,1384.71 1880.0,1382.62 1881.5,1379.60 1882.9,1377.58 1884.4,1375.26 1885.9,1372.44 1887.5,1369.88 1889.4,1367.95 1891.3,1364.92 1893.2,1362.06 1894.9,1359.48 1897.5,1356.25 1898.9,1354.11 1901.4,1343.83 1902.8,1358.86 1904.8,1341.76 1906.8,1357.83 1909.3,1343.21 1911.8,1354.11 1914.2,1348.37 1916.7,1355.76 1917.1,1356.58 1917.9,1359.97 1918.9,1363.17 1919.7,1365.87 1920.2,1368.40 1920.7,1370.55 1921.2,1373.19 1921.7,1376.04 1922.2,1378.87 1922.7,1380.89 1923.2,1383.90 1923.7,1385.67 1924.2,1388.00 1924.7,1391.21 1925.2,1393.23 1925.7,1395.61 1926.1,1398.25 1926.6,1400.90 1927.1,1402.99 1927.6,1405.31 1928.1,1408.20 1928.5,1410.68 1929.0,1413.09 1929.6,1415.32 1930.2,1418.48 1930.8,1420.63 1931.5,1423.41 1932.3,1426.48 1933.0,1428.47 1933.8,1431.56 1934.6,1434.17 1935.4,1437.08 1936.3,1439.40 1937.2,1442.16 1938.1,1444.87 1939.0,1447.87 1939.9,1450.18 1940.8,1453.26 1941.7,1456.02 1942.5,1458.72 1943.3,1461.07 1944.3,1463.79 1945.7,1465.30 1949.3,1467.34 1953.1,1468.02 1957.2,1465.86 1959.2,1442.75 1961.2,1467.57 1964.3,1468.89 1965.3,1467.71 1966.1,1464.35 1966.8,1460.46 1967.4,1458.89 1967.9,1459.56 1968.3,1462.88 1968.6,1465.53 1969.0,1468.93 1969.4,1472.26 1969.9,1475.42 1970.3,1478.40 1970.8,1481.49 1971.4,1484.14 1971.9,1486.46 1972.5,1490.15 1973.1,1492.93 1973.7,1495.71 1974.3,1498.65 1975.0,1501.42 1975.8,1504.11 1976.6,1507.02 1977.3,1508.73 1978.2,1512.15 1979.1,1513.62 1980.0,1516.49 1980.9,1519.07 1981.8,1521.42 1982.7,1523.63 1983.7,1526.42 1984.6,1528.83 1985.6,1531.76 1986.6,1533.67 1987.7,1536.50 1988.8,1539.28 1990.1,1541.43 1991.4,1543.28 1992.8,1545.98 1994.2,1548.69 1995.6,1550.52 1997.0,1552.99 1998.4,1554.95 1999.6,1557.89 2000.9,1559.77 2002.3,1562.36 2003.7,1564.41 2005.2,1566.71 2007.1,1568.57 2009.0,1571.35 2011.1,1573.53 2013.2,1575.36 2015.4,1577.02 2018.6,1578.31 2022.0,1579.68 2025.7,1581.26 2029.2,1581.88 2033.0,1582.14 2036.7,1582.22 2040.0,1581.24 2042.8,1580.63 2045.1,1578.39 2047.1,1576.63 2048.4,1574.10 2049.3,1571.81 2050.1,1568.44 2050.7,1565.64 2051.2,1563.25 2051.7,1560.49 2052.0,1557.49 2052.2,1555.79 2052.5,1552.28 2052.7,1550.12 2053.1,1547.86 2053.4,1545.17 2053.7,1542.69 2054.0,1540.39 2054.3,1537.02 2054.4,1534.88 2054.6,1532.07 2054.6,1529.86 2054.7,1527.17 2054.8,1524.78 2054.9,1522.42 2055.0,1519.62 2055.1,1517.03 2055.2,1514.60 2055.3,1511.53 2055.4,1509.58 2055.5,1506.26 2055.6,1503.50 2055.8,1500.94 2055.9,1498.03 2056.0,1495.33 2056.1,1492.22 2056.3,1489.25 2056.4,1486.36 2056.5,1483.89 2056.6,1480.86 2056.7,1477.30 2056.8,1475.31 2056.9,1472.80 2057.0,1469.84 2057.1,1467.62 2057.2,1464.83 2057.3,1462.26 2057.4,1458.96 2057.5,1456.65 2057.6,1453.86 2057.7,1450.90 2057.8,1448.09 2057.8,1445.13 2057.9,1443.16 2058.0,1439.96 2058.2,1437.47 2058.4,1434.95 2058.8,1431.89 2059.3,1428.20 2059.8,1425.27 2060.2,1422.07 2060.4,1421.56 2061.0,1381.92 2062.0,1421.56 2062.1,1422.18 2062.4,1424.73 2062.7,1427.60 2063.1,1430.21 2063.4,1433.93 2063.8,1437.39 2064.1,1439.95 2064.4,1441.88 2064.7,1444.90 2064.9,1447.06 2065.2,1449.32 2065.5,1452.63 2065.8,1454.49 2066.1,1457.92 2066.4,1459.91 2066.7,1462.83 2067.1,1464.99 2067.3,1467.94 2067.6,1470.29 2067.8,1472.23 2068.2,1474.65 2068.6,1477.46 2069.1,1480.58 2069.8,1482.82 2070.5,1485.59 2071.3,1488.77 2072.0,1491.38 2072.7,1494.63 2073.2,1497.59 2073.8,1499.90 2074.3,1503.24 2074.8,1505.53 2075.3,1508.46 2075.8,1511.33 2076.3,1514.58 2076.8,1516.52 2077.2,1519.89 2077.6,1521.78 2078.0,1525.25 2078.3,1527.42 2078.7,1530.18 2079.1,1532.48 2079.4,1535.14 2079.8,1537.61 2080.3,1540.03 2080.8,1542.99 2081.3,1546.58 2081.8,1548.71 2082.3,1551.50 2082.9,1554.01 2083.6,1557.59 2084.2,1560.58 2085.0,1562.65 2085.9,1566.10 2087.0,1567.71 2088.8,1570.67 2090.8,1572.90 2093.1,1574.66 2095.7,1576.59 2098.5,1578.42 2101.3,1580.30 2104.1,1581.20 2106.9,1582.53 2109.5,1584.75 2112.4,1586.74 2115.6,1589.00 2118.6,1590.67 2122.1,1591.11 2125.9,1590.62 2129.9,1591.12 2133.0,1591.59 2136.2,1591.09 2139.6,1591.10 2143.1,1590.72 2146.6,1590.79 2150.0,1591.22 2153.4,1591.09 2156.8,1591.45 2160.2,1591.04 2163.5,1590.86 2166.9,1590.99 2170.2,1590.73 2173.6,1591.07 2177.0,1591.28 2180.3,1590.78 2183.7,1591.18 2187.0,1591.59 2190.4,1591.29 2193.7,1590.91 2197.1,1591.24 2200.5,1590.70 2204.0,1590.70 2207.6,1591.40 2211.3,1591.30 2214.9,1591.22 2218.3,1591.15 2221.4,1590.94 2224.0,1591.43 2228.3,1591.11 2230.5,1591.09 2231.1,1578.54 2232.2,1591.09 2257.7,1591.61"/></g></g>
<g clip-path="url(#c3)"><g transform="scale(1,1.2)"><polyline class="cv" stroke="#f0f" points="331.9,2394.21 332.6,2393.77 334.7,2394.55 337.9,2394.55 341.7,2394.85 346.0,2393.63 350.3,2393.71 354.5,2393.56 358.1,2393.70 361.4,2394.64 364.7,2393.53 368.0,2394.27 371.2,2393.68 374.5,2393.83 377.8,2394.08 381.1,2394.83 384.4,2394.41 387.7,2393.32 390.9,2393.80 394.2,2393.56 397.5,2394.89 400.8,2394.78 404.1,2394.77 407.3,2394.81 410.6,2394.66 413.9,2395.03 417.2,2394.75 420.5,2393.76 423.8,2394.85 427.0,2394.18 430.3,2394.68 433.6,2394.33 436.9,2394.08 440.2,2393.96 443.4,2394.08 446.7,2393.87 450.0,2393.51 453.3,2394.79 456.6,2394.76 459.9,2395.10 463.1,2394.56 466.4,2394.31 469.7,2394.66 473.0,2393.54 476.3,2394.53 479.5,2394.10 482.8,2393.62 486.1,2393.66 489.4,2394.25 492.7,2393.76 496.0,2394.13 499.2,2394.40 502.5,2394.02 505.8,2393.53 509.1,2394.19 512.4,2393.72 515.6,2393.72 519.3,2393.65 523.4,2393.96 527.8,2393.43 532.1,2394.49 535.9,2395.04 539.0,2394.01 541.1,2394.61 541.9,2394.21 544.7,2383.72 548.1,2389.04 551.8,2379.84 555.2,2394.21 556.1,2395.00 558.3,2393.37 561.6,2393.55 565.6,2394.77 569.8,2394.83 573.8,2394.46 577.4,2393.58 580.8,2394.01 584.7,2394.74 588.6,2394.66 592.3,2394.43 595.6,2393.31 598.1,2394.60 599.5,2393.98 600.0,2395.16 601.6,2394.33 604.5,2395.92 608.2,2395.13 612.1,2395.04 615.7,2393.62 618.6,2393.68 621.6,2392.12 624.1,2390.25 626.3,2388.04 628.6,2386.81 631.0,2384.65 633.9,2384.44 637.3,2384.58 640.3,2385.28 642.7,2382.87 644.8,2381.08 646.5,2378.48 647.6,2376.74 648.3,2373.16 648.8,2370.24 649.0,2368.94 652.0,2354.57 655.1,2366.36 658.9,2362.93 659.8,2362.00 660.5,2359.64 661.1,2356.60 661.7,2353.59 662.3,2352.45 662.8,2347.86 663.5,2345.34 664.2,2342.80 664.9,2340.83 665.6,2337.23 666.4,2335.27 667.1,2332.40 667.9,2330.60 668.6,2326.48 669.2,2324.56 669.7,2322.46 670.2,2320.57 670.7,2317.11 671.0,2314.49 671.3,2312.34 671.7,2309.15 672.0,2306.12 672.4,2304.42 672.8,2302.63 673.2,2299.78 673.6,2296.34 674.0,2294.51 674.4,2292.13 674.7,2288.40 675.0,2286.28 675.4,2283.08 675.7,2280.07 676.0,2277.34 676.3,2274.37 676.7,2271.86 677.0,2268.52 677.3,2266.41 677.7,2263.07 678.0,2261.54 678.4,2258.48 678.7,2254.62 679.0,2253.27 679.3,2249.43 679.6,2247.20 679.9,2244.57 680.2,2241.40 680.4,2238.55 680.7,2236.05 681.0,2232.74 681.3,2231.30 681.6,2227.14 681.9,2225.67 682.2,2221.78 682.5,2219.17 682.8,2216.57 683.0,2213.19 683.2,2210.75 683.4,2208.58 683.5,2206.15 683.7,2204.37 683.8,2202.01 684.0,2197.71 684.1,2196.04 684.3,2192.71 684.4,2191.36 684.6,2187.90 684.7,2186.36 684.9,2183.15 685.0,2179.80 685.2,2176.99 685.4,2174.86 685.5,2173.41 685.7,2169.51 685.9,2167.53 686.1,2164.76 686.3,2162.13 686.4,2160.38 686.6,2156.72 686.8,2155.07 686.9,2152.39 687.1,2150.30 687.3,2146.96 687.5,2145.11 687.7,2141.65 687.9,2139.00 688.2,2135.76 688.5,2132.74 688.8,2129.64 689.0,2125.52 689.2,2123.71 689.2,2123.69 690.8,2091.26 692.9,2136.60 693.0,2135.73 693.3,2133.87 693.6,2130.16 693.9,2126.32 694.2,2124.54 694.4,2120.76 694.7,2117.83 694.9,2115.21 695.2,2112.58 695.4,2111.20 695.6,2107.56 695.8,2106.12 696.0,2103.80 696.2,2101.42 696.3,2098.46 696.5,2095.15 696.7,2092.92 696.9,2090.69 697.0,2087.85 697.2,2084.47 697.4,2082.78 697.6,2079.08 697.8,2076.79 698.0,2075.46 698.2,2071.95 698.4,2069.03 698.7,2067.41 698.9,2064.27 699.1,2060.96 699.3,2058.50 699.5,2056.32 699.8,2053.68 700.0,2052.44 700.2,2048.73 700.4,2047.29 700.7,2044.69 700.9,2041.24 701.2,2039.61 701.4,2036.49 701.6,2033.30 701.8,2030.34 702.0,2028.09 702.2,2026.25 702.4,2022.92 702.5,2019.62 702.7,2017.30 702.9,2014.86 703.0,2011.75 703.2,2009.93 703.3,2006.07 703.4,2004.71 703.5,2000.77 703.6,1997.90 703.7,1996.07 703.8,1992.83 703.9,1991.14 704.0,1987.66 704.2,1984.94 704.3,1982.74 704.4,1978.84 704.5,1977.05 704.6,1974.11 704.7,1970.94 704.8,1969.14 704.9,1964.66 705.0,1963.43 705.2,1959.35 705.3,1957.86 705.4,1953.84 705.5,1950.89 705.6,1948.89 705.7,1946.78 705.8,1942.64 705.9,1940.19 706.0,1937.63 706.1,1934.32 706.3,1932.40 706.5,1928.15 706.8,1925.59 707.1,1923.55 707.2,1922.02 708.7,1835.37 711.2,1919.43 711.3,1918.12 711.5,1915.29 711.8,1911.45 712.0,1908.90 712.3,1905.10 712.5,1903.21 712.7,1900.16 712.9,1896.23 713.1,1894.85 713.4,1891.83 713.6,1889.26 713.8,1886.79 714.1,1883.90 714.3,1881.30 714.6,1878.49 714.8,1875.64 715.1,1872.37 715.3,1869.58 715.5,1868.21 715.8,1865.02 716.1,1861.19 716.3,1859.50 716.6,1856.71 716.8,1853.81 717.1,1851.53 717.4,1848.91 717.6,1845.18 717.9,1843.17 718.1,1839.78 718.4,1837.13 718.6,1834.08 718.9,1832.42 719.2,1828.93 719.4,1827.29 719.7,1823.60 719.9,1821.64 720.2,1819.51 720.5,1816.49 720.7,1813.31 721.0,1810.15 721.2,1808.28 721.5,1805.61 721.8,1803.84 722.0,1801.13 722.3,1798.91 722.6,1795.37 722.9,1792.76 723.1,1790.48 723.4,1788.26 723.6,1784.50 723.9,1782.21 724.2,1779.49 724.5,1777.13 725.1,1774.02 725.8,1771.63 726.5,1766.56 727.2,1764.65 727.7,1761.17 727.9,1760.67 729.8,1729.52 731.4,1761.96 731.4,1762.05 731.6,1765.20 731.8,1766.14 732.1,1769.29 732.4,1772.72 732.7,1776.02 733.0,1779.77 733.2,1782.08 733.4,1784.76 733.6,1787.10 733.8,1790.86 734.0,1792.16 734.1,1795.02 734.3,1798.19 734.5,1801.30 734.7,1803.43 734.9,1806.12 735.1,1808.79 735.3,1811.64 735.5,1814.50 735.7,1816.05 736.0,1818.71 736.2,1822.60 736.5,1825.24 736.7,1828.04 736.9,1831.31 737.2,1832.98 737.4,1836.75 737.6,1839.04 737.9,1841.84 738.1,1844.37 738.4,1847.30 738.6,1850.72 738.9,1853.55 739.1,1857.07 739.4,1858.79 739.7,1862.46 739.9,1864.19 740.2,1868.08 740.4,1870.05 740.7,1874.19 741.0,1877.26 741.2,1878.81 741.5,1882.67 741.7,1884.43 742.0,1887.45 742.2,1889.96 742.5,1893.51 742.7,1895.60 742.9,1899.44 743.2,1901.97 743.4,1904.47 743.6,1907.80 743.8,1909.71 744.0,1912.67 744.3,1915.50 744.5,1917.60 744.7,1921.99 744.9,1923.29 745.2,1926.08 745.4,1930.12 745.6,1932.93 745.8,1935.01 746.0,1937.73 746.3,1939.98 746.5,1942.49 746.7,1946.21 746.9,1948.47 747.2,1951.06 747.4,1955.21 747.6,1956.35 747.8,1959.75 748.0,1963.23 748.3,1965.99 748.5,1967.58 748.7,1971.51 748.9,1973.95 749.1,1976.84 749.4,1980.18 749.6,1982.68 749.8,1985.08 750.0,1988.16 750.2,1990.41 750.5,1993.29 750.7,1996.54 750.9,1998.95 751.1,2001.27 751.4,2003.38 751.6,2007.56 751.8,2009.50 752.0,2012.43 752.2,2014.93 752.5,2018.19 752.7,2020.67 752.9,2024.23 753.1,2026.56 753.3,2029.26 753.6,2032.44 753.8,2034.58 754.0,2037.52 754.2,2040.68 754.4,2043.39 754.7,2046.20 754.9,2049.23 755.1,2051.39 755.3,2054.15 755.6,2056.24 755.8,2059.10 756.0,2062.22 756.2,2065.11 756.4,2068.61 756.7,2069.79 756.9,2073.07 757.1,2076.51 757.3,2078.73 757.6,2082.20 757.8,2083.74 758.0,2087.73 758.2,2089.64 758.3,2092.48 758.5,2094.19 758.7,2097.49 758.8,2100.90 759.0,2103.45 759.2,2105.78 759.3,2108.11 759.5,2109.94 759.8,2114.02 760.1,2116.36 760.4,2119.63 760.7,2122.15 761.0,2124.49 761.3,2128.08 761.6,2129.47 761.8,2133.75 762.1,2134.92 762.4,2139.30 762.7,2141.37 763.0,2143.88 763.3,2147.54 763.6,2149.53 763.8,2152.29 764.1,2154.23 764.4,2158.35 764.6,2160.83 764.9,2162.86 765.2,2165.39 765.4,2168.72 765.7,2172.45 766.0,2175.14 766.2,2177.21 766.5,2179.23 766.7,2183.46 767.0,2185.03 767.3,2188.65 767.6,2190.91 767.9,2194.37 768.2,2195.43 768.5,2199.16 768.8,2201.56 769.1,2202.83 769.5,2206.43 769.8,2208.53 770.1,2211.86 770.4,2214.94 770.7,2216.97 771.0,2219.20 771.3,2222.28 771.6,2224.47 771.9,2227.70 772.2,2229.87 772.5,2233.81 772.8,2235.49 773.0,2239.27 773.2,2241.53 773.5,2245.05 774.1,2246.80 775.0,2249.92 776.2,2254.34 777.6,2257.16 779.1,2258.65 781.2,2257.05 783.7,2254.56 785.9,2249.53 787.1,2248.18 788.3,2245.68 789.3,2242.15 790.3,2239.34 791.2,2236.81 792.1,2234.74 792.8,2232.58 793.5,2229.86 794.0,2227.04 794.6,2223.58 795.2,2222.20 795.8,2219.28 796.4,2216.17 797.0,2214.48 797.6,2211.19 798.3,2208.53 798.8,2206.36 799.3,2204.23 799.8,2200.23 800.3,2197.98 800.8,2194.79 801.5,2192.95 802.1,2190.83 802.9,2187.79 804.3,2185.98 805.8,2183.35 807.6,2181.26 812.2,2179.56 814.7,2180.62 817.7,2182.46 820.6,2183.88 823.0,2184.73 825.0,2188.35 826.6,2190.46 828.0,2192.90 829.2,2195.50 830.1,2198.18 830.8,2201.17 831.4,2203.07 832.0,2205.57 832.6,2209.64 833.2,2211.47 833.9,2213.25 834.7,2217.60 835.5,2218.98 836.3,2222.14 837.3,2225.06 838.5,2227.25 841.6,2230.92 844.7,2231.52 847.2,2232.12 848.5,2190.65 849.7,2234.70 849.8,2235.49 850.0,2237.86 850.4,2239.74 850.9,2243.37 851.4,2246.33 852.0,2250.15 852.5,2253.61 852.9,2254.95 853.4,2258.23 853.8,2260.13 854.3,2263.78 854.8,2266.22 855.3,2269.04 855.9,2271.68 856.5,2273.72 857.1,2276.83 857.9,2278.14 858.6,2281.66 859.4,2283.47 860.2,2287.04 861.1,2289.77 862.1,2291.44 863.3,2294.65 864.9,2296.27 866.7,2298.00 868.7,2299.98 870.7,2302.61 872.6,2304.19 874.9,2306.00 877.1,2308.92 879.5,2312.41 881.9,2313.38 885.0,2315.15 888.3,2315.66 891.2,2316.52 893.1,2319.62 894.6,2321.46 896.0,2324.12 897.4,2327.85 898.7,2330.43 899.9,2331.78 901.1,2336.12 902.4,2337.05 903.6,2339.93 904.8,2342.89 906.0,2346.50 907.2,2349.10 908.4,2351.64 909.8,2353.32 911.6,2356.77 913.6,2357.58 916.0,2360.74 918.9,2359.69 922.2,2359.95 925.3,2361.65 927.7,2363.13 930.1,2364.91 932.3,2366.32 934.6,2369.61 936.9,2371.35 939.1,2373.37 941.4,2375.53 943.9,2378.87 946.8,2377.84 950.0,2378.21 953.2,2379.00 955.6,2381.16 957.9,2382.66 960.4,2384.49 962.9,2385.84 965.5,2386.11 968.4,2388.52 971.4,2388.41 974.5,2390.53 977.7,2391.20 981.0,2390.09 984.1,2391.69 987.4,2391.08 990.8,2391.04 994.2,2392.61 997.5,2391.93 1000.3,2391.73 1002.7,2392.29 1008.3,2391.38 1010.3,2389.16 1012.0,2387.28 1013.8,2389.77 1015.7,2390.97 1018.2,2392.38 1019.9,2388.39 1021.6,2386.47 1023.4,2388.94 1025.7,2391.57 1029.3,2391.89 1033.7,2392.72 1036.8,2392.27 1040.5,2391.86 1044.2,2392.45 1047.3,2391.80 1049.2,2393.02 1050.0,2393.98 1051.4,2393.22 1053.8,2393.18 1056.8,2393.10 1060.2,2392.95 1064.0,2392.90 1067.8,2392.33 1071.4,2392.42 1074.8,2393.06 1077.9,2392.62 1081.0,2391.82 1084.1,2391.91 1087.2,2393.13 1090.3,2392.18 1093.4,2393.01 1096.5,2392.56 1099.6,2392.53 1102.7,2392.02 1106.0,2392.47 1109.2,2392.24 1112.5,2392.48 1115.7,2393.27 1118.7,2391.67 1121.7,2391.68 1124.3,2392.62 1127.9,2391.75 1131.1,2390.29 1134.2,2389.20 1137.4,2387.13 1140.7,2388.53 1144.2,2388.32 1147.5,2390.33 1150.4,2389.22 1152.7,2387.08 1154.6,2383.48 1156.2,2379.52 1157.8,2378.69 1159.5,2380.78 1161.1,2383.31 1163.4,2386.20 1166.1,2387.70 1169.4,2388.78 1172.9,2389.99 1176.4,2391.57 1179.7,2391.58 1183.0,2389.66 1186.3,2388.66 1189.4,2388.48 1192.7,2390.45 1195.8,2390.87 1198.7,2391.30 1201.6,2389.93 1204.3,2386.91 1206.9,2385.66 1209.9,2387.71 1213.6,2391.23 1215.9,2392.36 1218.7,2391.59 1221.8,2392.00 1225.3,2392.77 1228.9,2391.91 1232.6,2392.12 1236.3,2393.09 1239.9,2392.96 1243.3,2392.85 1246.5,2393.06 1249.6,2392.38 1252.7,2392.84 1255.9,2392.68 1259.0,2392.76 1262.1,2392.41 1265.2,2393.74 1268.3,2392.25 1271.5,2392.97 1274.6,2392.52 1277.7,2392.58 1280.8,2393.60 1284.0,2393.97 1287.1,2393.98 1290.2,2392.82 1293.3,2393.20 1296.5,2393.00 1299.6,2392.36 1302.7,2392.98 1305.9,2393.33 1309.0,2392.94 1312.1,2393.65 1315.2,2393.03 1318.4,2392.75 1321.5,2393.85 1324.6,2393.25 1327.7,2392.68 1330.9,2393.87 1334.0,2393.09 1337.1,2393.31 1340.3,2393.07 1343.4,2393.78 1346.5,2393.55 1349.6,2393.02 1352.8,2392.88 1355.9,2393.62 1359.0,2393.74 1362.1,2393.31 1365.3,2393.81 1368.4,2393.18 1371.5,2392.97 1374.7,2392.79 1377.8,2392.70 1380.9,2392.49 1384.0,2393.90 1387.2,2393.22 1390.3,2392.36 1393.4,2392.59 1396.5,2392.99 1399.7,2393.69 1402.8,2393.78 1405.9,2393.60 1409.1,2392.75 1412.2,2392.99 1415.4,2393.97 1418.6,2393.01 1421.9,2393.58 1425.2,2392.57 1428.5,2393.42 1431.6,2393.49 1434.7,2394.20 1437.6,2394.18 1440.3,2393.59 1443.6,2392.29 1446.6,2392.52 1449.5,2391.79 1452.3,2389.59 1455.2,2389.89 1458.1,2390.22 1460.9,2390.19 1463.8,2390.63 1466.8,2392.14 1470.1,2391.35 1473.0,2391.99 1476.0,2390.91 1479.2,2391.52 1482.5,2392.17 1485.9,2390.10 1489.3,2389.96 1492.7,2391.07 1496.1,2390.78 1499.4,2389.75 1502.8,2389.08 1506.3,2388.80 1509.8,2389.29 1513.2,2388.68 1516.6,2388.08 1519.9,2388.15 1523.0,2386.65 1525.8,2386.72 1529.2,2387.04 1532.4,2386.55 1535.3,2385.12 1538.1,2384.84 1540.7,2383.91 1543.1,2381.69 1545.3,2379.07 1547.4,2376.92 1549.5,2375.95 1551.9,2373.63 1555.1,2372.28 1558.6,2369.93 1562.0,2370.31 1564.9,2367.93 1569.9,2366.32 1572.1,2363.57 1573.9,2361.27 1576.3,2364.72 1577.5,2363.19 1578.7,2358.80 1579.8,2356.21 1581.1,2358.87 1582.3,2361.10 1583.4,2360.54 1584.6,2355.32 1585.8,2354.45 1588.7,2358.03 1589.4,2356.61 1589.8,2351.75 1590.7,2348.28 1593.7,2346.31 1595.3,2350.73 1596.7,2354.04 1598.1,2351.13 1599.6,2348.65 1600.9,2348.92 1602.2,2353.25 1603.6,2355.30 1606.6,2353.67 1609.5,2356.53 1610.6,2355.58 1611.6,2349.97 1612.5,2348.89 1613.5,2350.55 1614.5,2354.88 1615.5,2356.39 1616.5,2355.10 1617.5,2351.36 1618.5,2347.83 1619.1,2344.82 1619.8,2341.21 1620.4,2338.47 1621.0,2337.93 1621.4,2339.93 1621.7,2342.33 1622.1,2344.68 1622.5,2349.52 1622.8,2352.25 1623.1,2355.23 1623.4,2357.48 1623.7,2355.27 1624.0,2352.24 1624.3,2349.54 1624.5,2345.72 1624.8,2342.03 1625.1,2340.24 1625.4,2338.43 1625.8,2339.18 1626.2,2341.55 1626.7,2345.87 1627.1,2350.12 1627.6,2353.31 1628.0,2355.76 1628.4,2356.53 1628.7,2356.91 1628.9,2355.29 1629.0,2351.77 1629.2,2348.65 1629.4,2344.34 1629.6,2340.48 1629.9,2337.10 1630.3,2335.61 1630.9,2334.62 1632.8,2332.97 1633.4,2333.97 1633.8,2336.65 1634.0,2339.10 1634.2,2342.95 1634.3,2346.62 1634.4,2351.43 1634.5,2354.34 1634.6,2356.21 1634.8,2357.49 1635.1,2356.78 1635.4,2352.67 1635.7,2349.42 1636.0,2345.78 1636.3,2342.14 1636.7,2337.70 1637.0,2335.55 1637.3,2334.99 1637.6,2335.25 1637.9,2338.42 1638.2,2340.81 1638.6,2345.47 1638.9,2349.91 1639.2,2353.82 1639.5,2355.66 1639.8,2356.88 1640.1,2355.87 1640.3,2353.25 1640.6,2349.34 1640.9,2345.23 1641.1,2341.33 1641.4,2340.13 1641.8,2338.91 1642.1,2339.81 1642.5,2342.82 1643.0,2345.70 1643.4,2349.12 1643.8,2352.61 1644.2,2353.62 1644.7,2352.41 1645.2,2349.42 1645.7,2345.13 1646.2,2343.54 1646.8,2346.07 1647.5,2349.98 1648.2,2351.33 1648.9,2350.35 1649.5,2348.29 1650.3,2344.84 1651.0,2339.53 1651.7,2338.04 1652.4,2333.50 1653.2,2331.06 1653.9,2327.91 1654.4,2326.53 1654.7,2324.78 1656.1,2125.70 1658.1,2320.65 1658.8,2322.68 1660.1,2326.42 1661.4,2331.15 1663.1,2332.95 1667.0,2336.27 1671.0,2332.90 1672.8,2330.75 1674.8,2328.23 1677.0,2327.36 1679.4,2325.14 1682.1,2324.28 1684.9,2324.45 1687.8,2324.71 1690.8,2324.40 1693.8,2325.30 1697.9,2325.58 1701.7,2327.04 1706.7,2327.67 1708.1,2167.98 1709.5,2328.49 1711.5,2328.65 1715.2,2329.64 1719.0,2331.04 1720.1,2328.89 1720.8,2326.94 1721.2,2322.47 1721.4,2318.85 1721.6,2316.10 1722.0,2313.25 1722.7,2310.07 1724.4,2307.79 1726.4,2306.64 1727.7,2307.72 1729.0,2310.14 1730.5,2313.79 1732.0,2316.29 1733.8,2318.18 1737.5,2318.91 1741.3,2319.53 1743.3,2316.71 1745.1,2314.80 1746.8,2310.72 1748.7,2309.30 1750.5,2305.62 1752.5,2304.95 1754.5,2302.38 1756.6,2301.02 1758.6,2298.98 1761.0,2294.94 1763.5,2292.59 1766.0,2290.64 1768.5,2288.14 1770.9,2287.76 1773.4,2284.60 1775.9,2284.05 1778.4,2283.59 1781.7,2283.07 1785.1,2284.22 1788.3,2284.08 1792.2,2284.01 1795.8,2284.68 1797.8,2281.95 1799.7,2280.55 1801.5,2277.89 1803.2,2275.63 1804.6,2273.04 1805.9,2271.93 1807.1,2269.53 1808.3,2266.46 1809.5,2263.56 1810.7,2261.92 1811.8,2259.50 1812.9,2255.43 1814.1,2254.53 1815.1,2250.68 1816.0,2248.25 1816.8,2246.18 1817.6,2243.86 1818.1,2241.55 1818.6,2239.92 1819.0,2236.00 1819.3,2234.51 1819.8,2231.12 1820.2,2227.05 1820.5,2225.93 1820.6,2223.92 1821.6,1966.79 1823.5,2232.18 1825.5,2230.87 1827.1,2228.16 1829.0,2227.02 1831.1,2223.97 1833.0,2222.17 1835.1,2219.73 1837.1,2216.27 1839.2,2213.34 1841.5,2210.72 1844.1,2210.43 1846.8,2211.30 1849.9,2212.41 1852.8,2214.77 1855.3,2215.70 1857.7,2218.22 1860.2,2219.75 1864.0,2218.95 1867.7,2217.06 1869.4,2214.43 1870.9,2212.27 1872.3,2210.61 1873.7,2207.26 1875.1,2204.68 1876.6,2202.89 1878.1,2199.63 1879.6,2197.69 1881.3,2196.89 1886.2,2196.90 1888.8,2197.52 1891.7,2199.36 1894.6,2200.86 1897.4,2201.98 1900.1,2205.07 1902.7,2205.81 1905.1,2208.37 1907.3,2211.54 1908.8,2212.97 1910.1,2216.14 1911.4,2218.43 1912.5,2220.31 1913.7,2223.84 1914.8,2225.22 1915.7,2228.47 1916.7,2230.68 1917.6,2234.56 1918.4,2235.81 1919.2,2238.96 1920.1,2242.28 1920.9,2244.21 1921.8,2247.86 1922.8,2249.28 1923.7,2251.95 1924.6,2254.56 1925.5,2258.22 1926.3,2260.66 1927.1,2263.22 1927.9,2265.92 1928.5,2269.52 1929.1,2270.99 1929.9,2273.17 1930.9,2275.09 1934.6,2277.62 1935.8,2255.77 1937.5,2285.88 1937.9,2287.32 1938.8,2289.47 1940.1,2291.30 1941.7,2294.67 1943.2,2300.09 1944.5,2303.25 1945.6,2304.64 1946.7,2307.90 1947.9,2309.84 1949.0,2313.49 1950.1,2315.58 1951.1,2319.04 1951.9,2320.35 1952.9,2324.06 1953.7,2326.23 1954.5,2329.11 1955.5,2332.74 1956.5,2334.72 1957.5,2338.27 1958.5,2340.33 1959.4,2341.91 1960.5,2344.38 1961.9,2348.78 1963.4,2351.94 1965.3,2353.75 1967.4,2357.78 1969.3,2359.37 1971.4,2362.30 1973.8,2365.43 1976.3,2367.90 1978.8,2368.70 1981.3,2370.60 1983.7,2372.33 1986.2,2374.34 1988.8,2376.58 1991.2,2377.32 1994.2,2377.87 1994.8,1990.72 1998.9,2381.17 2000.1,2382.47 2005.0,2382.58 2010.0,2380.30 2015.0,2380.94 2017.8,2383.41 2020.9,2384.70 2024.8,2385.26 2028.8,2385.39 2032.9,2385.92 2036.8,2386.66 2039.3,2385.09 2041.6,2383.91 2044.0,2381.86 2047.2,2380.99 2050.2,2381.36 2053.2,2383.62 2056.3,2385.94 2058.8,2386.83 2061.4,2388.34 2064.5,2389.25 2067.1,2390.30 2070.0,2390.29 2073.2,2390.90 2076.5,2390.01 2079.7,2391.28 2082.9,2389.82 2086.0,2391.32 2089.2,2389.80 2092.4,2390.76 2095.6,2389.95 2098.6,2389.51 2101.3,2390.31 2104.8,2388.62 2108.0,2388.94 2111.5,2387.40 2114.5,2387.56 2117.8,2388.00 2121.2,2388.53 2124.6,2388.98 2127.9,2388.76 2131.1,2390.11 2134.3,2389.10 2137.6,2389.98 2140.8,2390.90 2144.2,2391.78 2147.5,2392.23 2150.8,2393.00 2154.2,2392.33 2157.7,2393.13 2161.2,2393.45 2164.7,2392.65 2167.9,2393.13 2171.2,2393.31 2174.5,2393.59 2177.9,2393.43 2181.2,2392.67 2184.6,2392.75 2187.9,2392.96 2191.3,2392.52 2194.6,2393.77 2197.9,2394.00 2201.2,2393.70 2204.5,2392.76 2207.9,2393.44 2211.2,2392.42 2214.5,2392.75 2217.8,2392.82 2221.2,2393.45 2224.5,2393.43 2227.8,2393.35 2231.1,2392.65 2234.5,2393.28 2238.2,2393.73 2242.5,2393.96 2246.9,2393.04 2251.0,2393.18 2254.5,2393.95 2256.8,2392.44 2257.7,2393.28"/></g></g>
<line class="lg" stroke="#000" x1="1292" y1="136" x2="1494" y2="136"/>
<text class="serif" font-size="89.6" transform="translate(1521.5,167.8) scale(1.0,1)">unmodified SMA</text>
<line class="lg" stroke="#00f" x1="1443.7" y1="1104" x2="1645.7" y2="1104"/>
<text class="serif" font-size="89.6" transform="translate(1671,1135.5) scale(1.0,1)">acrylic SMA</text>
<line class="lg" stroke="#f0f" x1="1213" y1="2086" x2="1415" y2="2086"/>
<text class="serif" font-size="89.6" transform="translate(1443,2117.4) scale(1.0,1)">bismaleimide SMA</text>
</svg></body></html>
